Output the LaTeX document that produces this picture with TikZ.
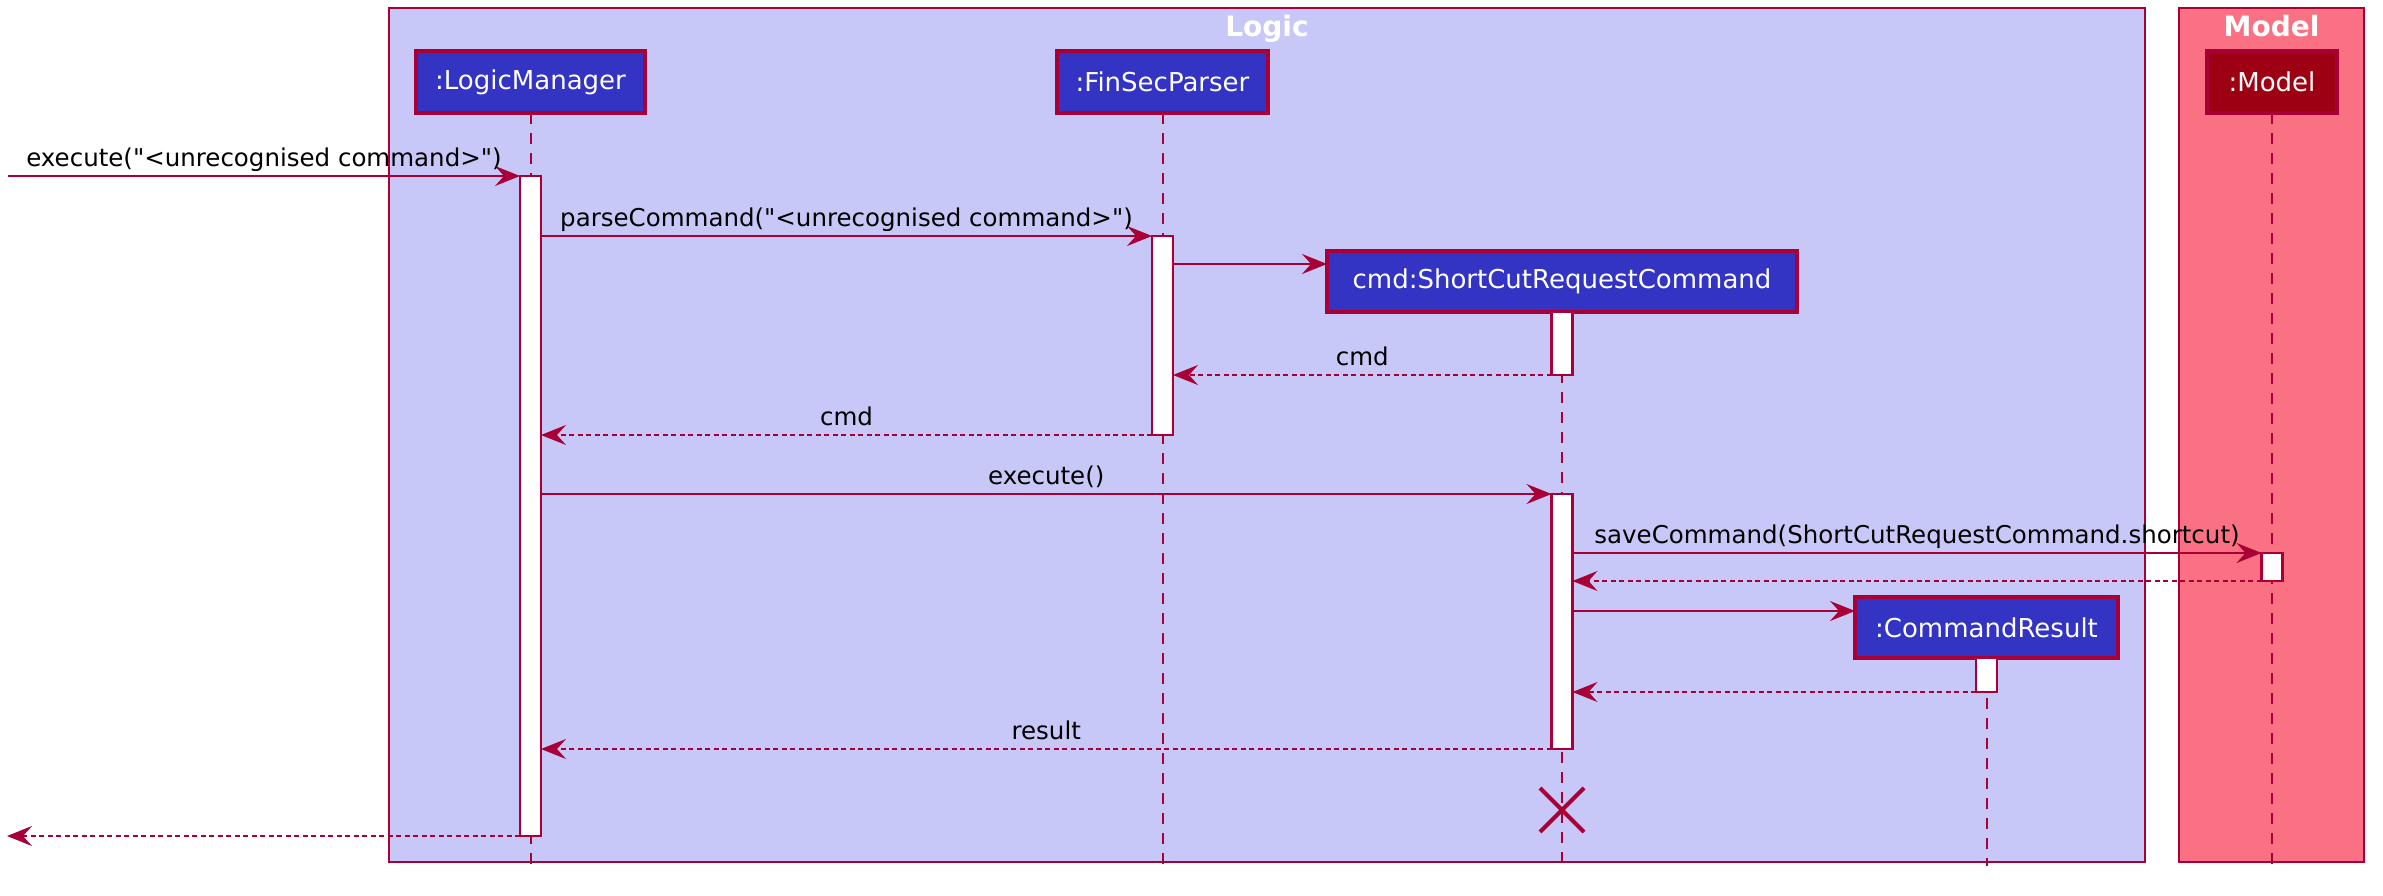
\documentclass[tikz,border=0pt]{standalone}
\usepackage{fontspec}
\setmainfont{DejaVu Sans}[Ligatures=TeXOff]
\usetikzlibrary{arrows.meta,shapes.misc}
\definecolor{uml}{HTML}{A80036}
\definecolor{logicbg}{HTML}{C8C8F8}
\definecolor{modelbg}{HTML}{F97182}
\definecolor{partblue}{HTML}{3333C4}
\definecolor{partred}{HTML}{9D0012}
\begin{document}
\begin{tikzpicture}[x=1pt,y=-1pt,
  grp/.style={draw=uml, line width=2pt, inner sep=0, outer sep=0, anchor=north west},
  grptitle/.style={anchor=base, inner sep=0, text=white, font=\fontsize{28pt}{33pt}\selectfont\bfseries},
  part/.style={draw=uml, line width=3.5pt, fill=partblue, text=white, inner sep=0, outer sep=0,
    minimum height=62pt, font=\fontsize{26pt}{31pt}\selectfont},
  life/.style={draw=uml, line width=2pt, dash pattern=on 11pt off 9pt},
  act/.style={draw=uml, fill=white, line width=2.5pt, minimum width=21pt, inner sep=0, outer sep=0},
  msg/.style={draw=uml, line width=2pt, -{Stealth[length=25pt, width=20pt, inset=9pt]}},
  ret/.style={msg, dash pattern=on 5pt off 3.5pt},
  lbl/.style={midway, anchor=base, yshift=10pt, inner sep=0, text=black,
    font=\fontsize{24.5pt}{29pt}\selectfont},
  killmark/.style={cross out, draw=uml, line width=4pt, minimum size=40pt, inner sep=0}
]
\useasboundingbox (0,0) rectangle (2383,895);
\fill[white] (0,0) rectangle (2383,895);

% group boxes
\node[grp, fill=logicbg, minimum width=1756pt, minimum height=854pt] (logic) at (389,8) {};
\node[grp, fill=modelbg, minimum width=185pt, minimum height=854pt] (model) at (2179,8) {};
\coordinate (titley) at (0,36);
\node[grptitle] (logict) at (logic.north |- titley) {Logic};
\node[grptitle] (modelt) at (model.north |- titley) {Model};

% participants
\node[part, minimum width=229pt] (lm) at (530.5,82) {:LogicManager};
\node[part, minimum width=211pt] (fsp) at (1162.5,82) {:FinSecParser};
\node[part, minimum width=130pt, fill=partred] (md) at (2272,82) {:Model};
\node[part, minimum width=470pt, minimum height=61pt] (cmd) at (1562,281.5) {cmd:ShortCutRequestCommand};
\node[part, minimum width=263pt, minimum height=61pt] (cr) at (1986.5,627.5) {:CommandResult};

% lifelines
\coordinate (bottom) at (0,866);
\draw[life] (lm.south) -- (lm.south |- bottom);
\draw[life] (fsp.south) -- (fsp.south |- bottom);
\draw[life] (md.south) -- (md.south |- bottom);
\draw[life] (cmd.south) -- (cmd.south |- bottom);
\draw[life] (cr.south) -- (cr.south |- bottom);

% activations
\node[act, minimum height=660pt] (lma) at (530.5,506) {};
\node[act, minimum height=199pt] (fspa) at (1162.5,335.5) {};
\node[act, minimum height=63pt] (cmda1) at (1562,343.5) {};
\node[act, minimum height=255pt] (cmda2) at (1562,621.5) {};
\node[act, minimum height=28pt] (mda) at (2272,567) {};
\node[act, minimum height=34pt] (cra) at (1986.5,675) {};

% messages
\coordinate (in) at (8,176);
\draw[msg] (in) -- (lma.north west) node[lbl] {execute("<unrecognised command>")};
\draw[msg] (lma.east |- fspa.north) -- (fspa.north west) node[lbl] {parseCommand("<unrecognised command>")};
\coordinate (c1) at (0,264);
\draw[msg] (fspa.east |- c1) -- (cmd.west |- c1);
\draw[ret] (cmda1.south west) -- (fspa.east |- cmda1.south) node[lbl] {cmd};
\draw[ret] (fspa.south west) -- (lma.east |- fspa.south) node[lbl] {cmd};
\draw[msg] (lma.east |- cmda2.north) -- (cmda2.north west) node[lbl] {execute()};
\draw[msg] (cmda2.east |- mda.north) -- (mda.north west) node[lbl] {saveCommand(ShortCutRequestCommand.shortcut)};
\draw[ret] (mda.south west) -- (cmda2.east |- mda.south);
\coordinate (c2) at (0,611);
\draw[msg] (cmda2.east |- c2) -- (cr.west |- c2);
\draw[ret] (cra.south west) -- (cmda2.east |- cra.south);
\draw[ret] (cmda2.south west) -- (lma.east |- cmda2.south) node[lbl] {result};
\coordinate (out) at (7,836);
\draw[ret] (lma.south west) -- (out);

% destroy
\node[killmark] (kill) at (1562,810) {};
\end{tikzpicture}
\end{document}
